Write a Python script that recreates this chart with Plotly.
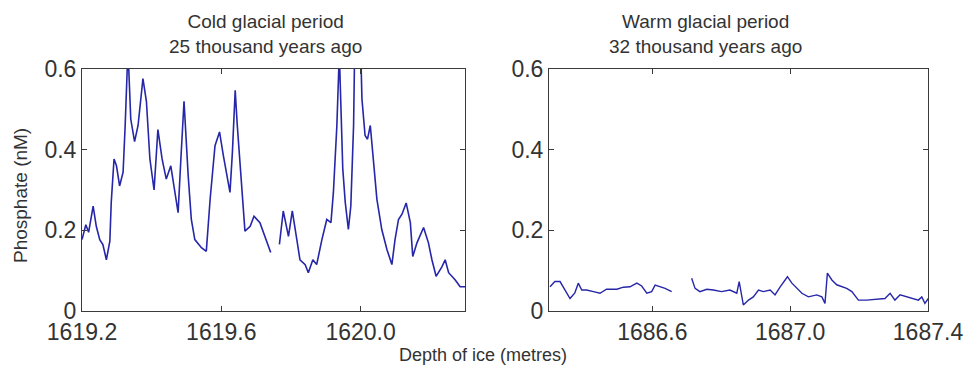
import plotly.graph_objects as go

# ---- Cold glacial period (left panel) ----
cold_depth = [1619.200, 1619.211, 1619.219, 1619.232, 1619.241, 1619.251, 1619.260, 1619.270,
              1619.280, 1619.284, 1619.292, 1619.299, 1619.308, 1619.318, 1619.324, 1619.332,
              1619.340, 1619.351, 1619.361, 1619.375, 1619.385, 1619.395, 1619.407, 1619.418,
              1619.430, 1619.442, 1619.455, 1619.466, 1619.476, 1619.484, 1619.493, 1619.505,
              1619.514, 1619.524, 1619.543, 1619.557, 1619.568, 1619.582, 1619.595, 1619.606,
              1619.625, 1619.632, 1619.640, 1619.646, 1619.659, 1619.668, 1619.683, 1619.694,
              1619.711, 1619.731, 1619.742, 1619.754,
              1619.767, 1619.778, 1619.793, 1619.804, 1619.817, 1619.826, 1619.841, 1619.850,
              1619.863, 1619.874, 1619.889, 1619.903, 1619.915, 1619.922, 1619.932, 1619.939,
              1619.949, 1619.956, 1619.965, 1619.972, 1619.980, 1619.984, 1619.999, 1620.004,
              1620.013, 1620.020, 1620.028, 1620.037, 1620.047, 1620.061, 1620.076, 1620.090,
              1620.099, 1620.109, 1620.119, 1620.131, 1620.143, 1620.150, 1620.162, 1620.181,
              1620.195, 1620.205, 1620.217, 1620.234, 1620.243, 1620.253, 1620.272, 1620.286,
              1620.300]
cold_phos = [0.177, 0.214, 0.195, 0.260, 0.210, 0.177, 0.165, 0.127,
             0.173, 0.270, 0.377, 0.360, 0.310, 0.344, 0.460, 0.650,
             0.476, 0.420, 0.460, 0.576, 0.520, 0.377, 0.300, 0.450,
             0.377, 0.327, 0.360, 0.294, 0.244, 0.377, 0.520, 0.335,
             0.227, 0.177, 0.157, 0.148, 0.277, 0.410, 0.444, 0.385,
             0.294, 0.394, 0.547, 0.460, 0.294, 0.198, 0.210, 0.235,
             0.219, 0.169, 0.145, None,
             0.165, 0.248, 0.185, 0.248, 0.177, 0.127, 0.115, 0.095,
             0.127, 0.115, 0.177, 0.227, 0.219, 0.294, 0.460, 0.640,
             0.352, 0.270, 0.202, 0.260, 0.460, 0.700, 0.700, 0.526,
             0.435, 0.426, 0.460, 0.377, 0.277, 0.202, 0.152, 0.115,
             0.177, 0.227, 0.240, 0.268, 0.219, 0.135, 0.169, 0.207,
             0.169, 0.127, 0.086, 0.110, 0.127, 0.095, 0.077, 0.060,
             0.060]

# ---- Warm glacial period (right panel) ----
warm_depth = [1686.303, 1686.317, 1686.332, 1686.346, 1686.361, 1686.375, 1686.385, 1686.395,
              1686.409, 1686.429, 1686.448, 1686.467, 1686.497, 1686.516, 1686.535, 1686.555,
              1686.569, 1686.584, 1686.598, 1686.608, 1686.622, 1686.637, 1686.656, 1686.690,
              1686.714, 1686.724, 1686.738, 1686.758, 1686.777, 1686.801, 1686.825, 1686.845,
              1686.852, 1686.864, 1686.879, 1686.893, 1686.908, 1686.922, 1686.942, 1686.956,
              1686.971, 1686.982, 1686.992, 1687.005, 1687.019, 1687.034, 1687.053, 1687.077,
              1687.092, 1687.101, 1687.108, 1687.121, 1687.135, 1687.150, 1687.164, 1687.179,
              1687.198, 1687.222, 1687.251, 1687.275, 1687.290, 1687.304, 1687.319, 1687.338,
              1687.357, 1687.372, 1687.382, 1687.391, 1687.401]
warm_phos = [0.060, 0.073, 0.073, 0.052, 0.031, 0.045, 0.069, 0.052,
             0.052, 0.048, 0.044, 0.054, 0.054, 0.059, 0.060, 0.069,
             0.062, 0.044, 0.048, 0.064, 0.060, 0.056, 0.048, None,
             0.081, 0.056, 0.048, 0.054, 0.052, 0.048, 0.052, 0.044,
             0.073, 0.015, 0.027, 0.035, 0.052, 0.048, 0.052, 0.040,
             0.060, 0.073, 0.085, 0.069, 0.056, 0.044, 0.035, 0.040,
             0.035, 0.019, 0.094, 0.077, 0.065, 0.060, 0.056, 0.048,
             0.027, 0.027, 0.029, 0.031, 0.044, 0.027, 0.040, 0.035,
             0.031, 0.027, 0.035, 0.019, 0.031]

y_ticks = [0, 0.2, 0.4, 0.6]
y_ticktext = ["0", "0.2", "0.4", "0.6"]
cold_xticks = [1619.2, 1619.6, 1620.0]
cold_xtext = ["1619.2", "1619.6", "1620.0"]
warm_xticks = [1686.6, 1687.0, 1687.4]
warm_xtext = ["1686.6", "1687.0", "1687.4"]

LINE = "#2626a8"
AX = "#3a3a3a"
TXT = "#333333"
FONT = "Liberation Sans, Arial, sans-serif"

fig = go.Figure()
fig.add_trace(go.Scatter(x=cold_depth, y=cold_phos, mode="lines", xaxis="x", yaxis="y",
                         line=dict(color=LINE, width=1.6), connectgaps=False,
                         showlegend=False, hoverinfo="skip"))
fig.add_trace(go.Scatter(x=warm_depth, y=warm_phos, mode="lines", xaxis="x2", yaxis="y2",
                         line=dict(color=LINE, width=1.4), connectgaps=False,
                         showlegend=False, hoverinfo="skip"))

W, H = 969, 368
def fx(px):
    return px / W
def fy(py):
    return 1 - py / H

common_ax = dict(showline=True, linecolor=AX, linewidth=1, mirror="allticks",
                 ticks="inside", ticklen=5, tickcolor=AX, showgrid=False, zeroline=False,
                 automargin=False,
                 tickfont=dict(family=FONT, size=23, color=TXT))

fig.update_layout(
    width=W, height=H,
    margin=dict(l=0, r=0, t=0, b=0),
    paper_bgcolor="white", plot_bgcolor="white",
    font=dict(family=FONT, color=TXT),
    xaxis=dict(domain=[fx(82), fx(465)], range=[1619.2, 1620.3], anchor="y",
               tickvals=cold_xticks, ticktext=cold_xtext, **common_ax),
    yaxis=dict(domain=[fy(311), fy(69)], range=[0, 0.6], anchor="x",
               tickvals=y_ticks, ticktext=y_ticktext, **common_ax),
    xaxis2=dict(domain=[fx(549), fx(928)], range=[1686.3, 1687.4], anchor="y2",
                tickvals=warm_xticks, ticktext=warm_xtext, **common_ax),
    yaxis2=dict(domain=[fy(311), fy(69)], range=[0, 0.6], anchor="x2",
                tickvals=y_ticks, ticktext=y_ticktext, **common_ax),
    annotations=[
        dict(text="Cold glacial period<br>25 thousand years ago", x=fx(265), y=fy(34),
             xref="paper", yref="paper", showarrow=False, xanchor="center", yanchor="middle",
             font=dict(size=19, color=TXT, family=FONT)),
        dict(text="Warm glacial period<br>32 thousand years ago", x=fx(705), y=fy(34),
             xref="paper", yref="paper", showarrow=False, xanchor="center", yanchor="middle",
             font=dict(size=19, color=TXT, family=FONT)),
        dict(text="Depth of ice (metres)", x=fx(483), y=fy(355),
             xref="paper", yref="paper", showarrow=False, xanchor="center", yanchor="middle",
             font=dict(size=18, color=TXT, family=FONT)),
        dict(text="Phosphate (nM)", x=fx(20), y=fy(196), textangle=-90,
             xref="paper", yref="paper", showarrow=False, xanchor="center", yanchor="middle",
             font=dict(size=19, color=TXT, family=FONT)),
    ],
)

fig.write_html("out.html", config={"displayModeBar": False},
               post_script="document.body.style.margin='0';document.body.style.overflow='hidden';")
